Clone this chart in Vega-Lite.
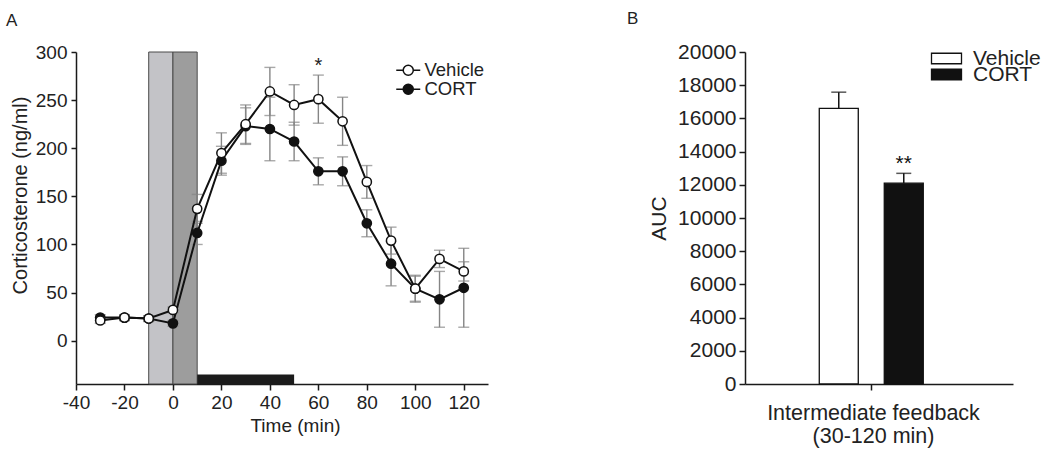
{
  "$schema": "https://vega.github.io/schema/vega-lite/v6.json",
  "padding": {"left": 6, "top": 10, "right": 5, "bottom": 0},
  "config": {
    "font": "Liberation Sans",
    "view": {"stroke": null},
    "axis": {"domainColor": "#1a1a1a", "domainWidth": 1.5, "tickColor": "#1a1a1a", "tickWidth": 1.5, "labelColor": "#222222", "titleColor": "#222222", "grid": false, "titleFontWeight": "normal", "labelOverlap": false},
    "title": {"fontWeight": "normal", "fontSize": 17, "color": "#222222"}
  },
  "datasets": {
    "series": [
      {"group": "CORT", "time": -30, "cort": 24, "sem": 3},
      {"group": "CORT", "time": -20, "cort": 24, "sem": 3},
      {"group": "CORT", "time": -10, "cort": 23, "sem": 3},
      {"group": "CORT", "time": 0, "cort": 18, "sem": 3},
      {"group": "CORT", "time": 10, "cort": 112, "sem": 12},
      {"group": "CORT", "time": 20, "cort": 187, "sem": 15},
      {"group": "CORT", "time": 30, "cort": 223, "sem": 19},
      {"group": "CORT", "time": 40, "cort": 220, "sem": 33},
      {"group": "CORT", "time": 50, "cort": 207, "sem": 20},
      {"group": "CORT", "time": 60, "cort": 176, "sem": 14},
      {"group": "CORT", "time": 70, "cort": 176, "sem": 15},
      {"group": "CORT", "time": 80, "cort": 122, "sem": 14},
      {"group": "CORT", "time": 90, "cort": 80, "sem": 23},
      {"group": "CORT", "time": 100, "cort": 54, "sem": 13},
      {"group": "CORT", "time": 110, "cort": 43, "sem": 29},
      {"group": "CORT", "time": 120, "cort": 55, "sem": 41},
      {"group": "Vehicle", "time": -30, "cort": 21, "sem": 3},
      {"group": "Vehicle", "time": -20, "cort": 24, "sem": 3},
      {"group": "Vehicle", "time": -10, "cort": 23, "sem": 3},
      {"group": "Vehicle", "time": 0, "cort": 32, "sem": 3},
      {"group": "Vehicle", "time": 10, "cort": 137, "sem": 15},
      {"group": "Vehicle", "time": 20, "cort": 195, "sem": 21},
      {"group": "Vehicle", "time": 30, "cort": 225, "sem": 20},
      {"group": "Vehicle", "time": 40, "cort": 259, "sem": 25},
      {"group": "Vehicle", "time": 50, "cort": 245, "sem": 21},
      {"group": "Vehicle", "time": 60, "cort": 251, "sem": 25},
      {"group": "Vehicle", "time": 70, "cort": 228, "sem": 25},
      {"group": "Vehicle", "time": 80, "cort": 165, "sem": 17},
      {"group": "Vehicle", "time": 90, "cort": 104, "sem": 14},
      {"group": "Vehicle", "time": 100, "cort": 54, "sem": 14},
      {"group": "Vehicle", "time": 110, "cort": 85, "sem": 9},
      {"group": "Vehicle", "time": 120, "cort": 72, "sem": 10}
    ],
    "bands": [
      {"time": -10, "time_end": 0, "kind": "light"},
      {"time": 0, "time_end": 10, "kind": "dark"}
    ],
    "bar": [
      {"time": 10, "time_end": 50, "cort": -35, "cort_lo": -45}
    ],
    "notes_a": [
      {"time": 60, "cort": 279, "label": "*"}
    ],
    "auc": [
      {"window": "Intermediate feedback", "group": "Vehicle", "auc": 16600, "upper": 17580, "sig": ""},
      {"window": "Intermediate feedback", "group": "CORT", "auc": 12100, "upper": 12690, "sig": "**"}
    ]
  },
  "spacing": 139,
  "resolve": {"scale": {"fill": "independent", "color": "independent", "x": "independent", "y": "independent"}, "legend": {"fill": "independent", "color": "independent"}},
  "hconcat": [
    {
      "width": 412,
      "height": 332,
      "title": {"text": "A", "anchor": "start", "frame": "group", "dx": -70, "offset": 13},
      "layer": [
        {
          "data": {"name": "bands"},
          "mark": {"type": "rect", "stroke": "#4a4a4a", "strokeWidth": 1},
          "encoding": {
            "x": {"field": "time", "type": "quantitative", "title": "Time (min)", "scale": {"domain": [-40, 130], "nice": false, "zero": false},
              "axis": {"values": [-40, -20, 0, 20, 40, 60, 80, 100, 120], "labelExpr": "'' + datum.value", "labelFontSize": 19, "titleFontSize": 19, "tickSize": 6, "labelPadding": 3, "titlePadding": 4, "titleX": 219, "labelFlush": false, "labelOverlap": false}},
            "x2": {"field": "time_end"},
            "color": {"field": "kind", "type": "nominal", "scale": {"domain": ["light", "dark"], "range": ["#c3c3c7", "#9d9d9d"]}, "legend": null}
          }
        },
        {
          "data": {"name": "bar"},
          "mark": {"type": "rect", "color": "#1b1b1b"},
          "encoding": {
            "x": {"field": "time", "type": "quantitative", "title": "Time (min)"},
            "x2": {"field": "time_end"},
            "y": {"field": "cort", "type": "quantitative", "title": "Corticosterone (ng/ml)", "scale": {"domain": [-45, 300], "nice": false, "zero": false},
              "axis": {"values": [0, 50, 100, 150, 200, 250, 300], "labelFontSize": 19, "titleFontSize": 20, "tickSize": 5, "labelPadding": 4, "titlePadding": 6, "titleY": 143, "minExtent": 40, "maxExtent": 40, "labelOverlap": false}},
            "y2": {"field": "cort_lo"}
          }
        },
        {
          "data": {"name": "series"},
          "mark": {"type": "errorbar", "ticks": true, "size": 11, "thickness": 1.4, "color": "#858585"},
          "encoding": {
            "x": {"field": "time", "type": "quantitative", "title": "Time (min)"},
            "y": {"field": "cort", "type": "quantitative", "title": "Corticosterone (ng/ml)"},
            "yError": {"field": "sem"}
          }
        },
        {
          "data": {"name": "series"},
          "mark": {"type": "line", "color": "#111111", "strokeWidth": 2},
          "encoding": {
            "x": {"field": "time", "type": "quantitative", "title": "Time (min)"},
            "y": {"field": "cort", "type": "quantitative", "title": "Corticosterone (ng/ml)"},
            "detail": {"field": "group", "type": "nominal"}
          }
        },
        {
          "data": {"name": "series"},
          "mark": {"type": "circle", "size": 85, "stroke": "#111111", "strokeWidth": 1.5, "opacity": 1},
          "encoding": {
            "x": {"field": "time", "type": "quantitative", "title": "Time (min)"},
            "y": {"field": "cort", "type": "quantitative", "title": "Corticosterone (ng/ml)"},
            "fill": {"field": "group", "type": "nominal", "scale": {"domain": ["Vehicle", "CORT"], "range": ["#ffffff", "#111111"]},
              "legend": {"orient": "none", "legendX": 323, "legendY": 9, "title": null, "symbolType": "M-2,0L-0.84,0M0.84,0L2,0M-0.84,0A0.84,0.84,0,1,1,0.84,0A0.84,0.84,0,1,1,-0.84,0Z", "symbolSize": 144, "symbolStrokeColor": "#111111", "symbolStrokeWidth": 1.5, "labelFontSize": 18.5, "labelColor": "#222222", "labelOffset": 7, "rowPadding": 0}}
          }
        },
        {
          "data": {"name": "notes_a"},
          "mark": {"type": "text", "fontSize": 20, "baseline": "alphabetic", "color": "#222222"},
          "encoding": {
            "x": {"field": "time", "type": "quantitative", "title": "Time (min)"},
            "y": {"field": "cort", "type": "quantitative", "title": "Corticosterone (ng/ml)"},
            "text": {"field": "label"}
          }
        }
      ]
    },
    {
      "width": 268,
      "height": 332,
      "title": {"text": "B", "anchor": "start", "frame": "group", "dx": -118, "offset": 13},
      "data": {"name": "auc"},
      "encoding": {
        "x": {"field": "window", "type": "nominal", "scale": {"paddingInner": 0, "paddingOuter": 0.5308, "align": 0.444},
          "axis": {"labels": false, "title": ["Intermediate feedback", "(30-120 min)"], "titleFontSize": 21.5, "titleLineHeight": 23, "tickSize": 6, "titlePadding": 12, "titleX": 128}},
        "xOffset": {"field": "group", "type": "nominal", "scale": {"domain": ["Vehicle", "CORT"], "paddingInner": 0.4, "paddingOuter": 0.2}},
        "y": {"field": "auc", "type": "quantitative", "title": "AUC", "scale": {"domain": [0, 20000], "nice": false},
          "axis": {"values": [0, 2000, 4000, 6000, 8000, 10000, 12000, 14000, 16000, 18000, 20000], "labelExpr": "'' + datum.value", "labelFontSize": 21, "titleFontSize": 21, "tickSize": 6, "labelPadding": 3, "titlePadding": 8, "labelOverlap": false, "labelSeparation": 0, "labelBound": false}}
      },
      "layer": [
        {
          "mark": {"type": "bar", "stroke": "#111111", "strokeWidth": 1.3},
          "encoding": {
            "fill": {"field": "group", "type": "nominal", "scale": {"domain": ["Vehicle", "CORT"], "range": ["#ffffff", "#111111"]},
              "legend": {"orient": "none", "legendX": 191, "legendY": -4, "values": ["Vehicle"], "title": null, "symbolType": "M-3,-1.05L3,-1.05L3,1.05L-3,1.05Z", "symbolSize": 100, "symbolStrokeColor": "#111111", "symbolStrokeWidth": 1.3, "labelFontSize": 21, "labelColor": "#222222", "labelOffset": 16}}
          }
        },
        {
          "mark": {"type": "rule", "color": "#111111", "strokeWidth": 1.5},
          "encoding": {
            "y2": {"field": "upper"}
          }
        },
        {
          "mark": {"type": "tick", "color": "#111111", "size": 15, "thickness": 1.5},
          "encoding": {
            "y": {"field": "upper", "type": "quantitative", "title": "AUC"}
          }
        },
        {
          "mark": {"type": "text", "fontSize": 21, "baseline": "alphabetic", "dy": -3},
          "encoding": {
            "y": {"field": "upper", "type": "quantitative", "title": "AUC"},
            "text": {"field": "sig"},
            "color": {"field": "group", "type": "nominal", "scale": {"domain": ["CORT", "Vehicle"], "range": ["#111111", "#ffffff"]},
              "legend": {"orient": "none", "legendX": 191, "legendY": 12, "values": ["CORT"], "title": null, "symbolType": "M-3,-1.05L3,-1.05L3,1.05L-3,1.05Z", "symbolSize": 100, "symbolStrokeColor": "#111111", "symbolStrokeWidth": 1.3, "labelFontSize": 21, "labelColor": "#222222", "labelOffset": 16}}
          }
        }
      ]
    }
  ]
}
